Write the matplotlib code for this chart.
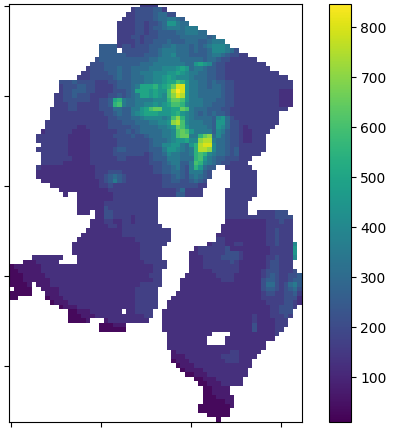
import numpy as np
import matplotlib
matplotlib.use("Agg")
import matplotlib.pyplot as plt

# one char per cell, looked up in level_values, "." = no data, grouped by 5 columns
rows = [
    "..... ..... ..... ..... ..... ....3 333..",
    "..... ..... ..... ..... ..... ..344 44553",
    "..... ..... ..... ..... ..... .3344 44566 44...",
    "..... ..... ..... ..... ..... 33344 44566 7765.",
    "..... ..... ..... ..... ....3 33344 34456 99766",
    "..... ..... ..... ..... ....3 33344 34556 77767 77...",
    "..... ..... ..... ..... ....3 33344 34455 55667 7766.",
    "..... ..... ..... ..... ....3 33443 44455 55566 66665 6....",
    "..... ..... ..... ..... ....3 33343 44555 65556 66556 777..",
    "..... ..... ..... ..... 55553 44344 45556 67666 56567 8887.",
    "..... ..... ..... ..... 5555. 44444 45567 77666 56556 88876 4....",
    "..... ..... ..... ..... 55555 54444 55567 78666 55556 77654 433..",
    "..... ..... ..... ....4 55555 55555 56677 77766 66656 65443 33333",
    "..... ..... ..... ...44 45555 55556 66777 77776 69a98 54433 33333 33...",
    "..... ..... ..... ..344 45556 55666 67778 889a9 67765 54433 33333 333..",
    "..... ..... ..... .3344 44556 55667 77888 99a98 77665 54433 33333 33333",
    "..... ..... ..... 33344 44456 55666 77889 a9888 76665 54433 33333 33333 33...",
    "..... ..... .4445 44443 33445 55666 77889 aacb9 77665 65544 33333 33333 333..",
    "..... ..... .3444 55443 33345 5567a aab9a bdgg9 77665 66544 33333 33333 333..",
    "..... ..... .3445 55443 33344 456aa a9a99 cfhg9 77666 66544 33333 33333 222..",
    "..... ..... 33445 44433 33445 4567a a9a98 cegf9 77666 66544 33333 33333 222..",
    "..... ..... 33444 44433 445ab 76677 77888 bddc9 77766 65544 33333 33333 222..",
    "..... ..... 33344 33333 445bc 76677 88989 accb8 77766 55544 33333 33333 222..",
    "..... ....3 33344 33333 44466 55779 acdd9 9aadc 76665 55443 33333 33333 33...",
    "..... ....3 33333 33333 34456 55789 aaa99 9ab98 76565 65543 33333 33333",
    "..... ....3 33333 33333 33445 55667 88887 8ceb8 76666 58964 33333 33333",
    "..... ...33 33333 33333 33444 55566 67788 9efc8 77766 59964 43333 33333",
    "..... ...33 33333 22333 33444 44556 66677 89dc9 77776 59864 43233 3333.",
    "..... ..233 33332 22233 33334 45456 66667 78cdc 97777 58754 43223 333..",
    "..... .3333 33322 22233 33344 44544 56667 78cdd 77bde 68654 43223 33...",
    "..... .3333 33322 22233 33334 44444 45666 7899a 88eff 76654 43223 33...",
    "..... ..333 33322 22233 33334 44444 45668 89976 9bfgg 86654 43333 33...",
    "..... .3333 33322 22233 33345 54444 45557 99876 7bffe 86654 53333 33...",
    "..... ..333 33322 22233 33344 44444 34556 87766 7bcb8 76654 53333 3....",
    "..... ..333 33332 22233 33334 43333 34555 77766 6bc97 65544 4333.",
    "..... ..333 33222 22233 33333 33333 34445 67755 7cb87 65443 333..",
    "..... .3222 22222 22223 33333 33333 33445 56754 7b965 5..33 3333.",
    "..... .2222 22222 22223 33444 33333 33445 56654 77754 ....3 33333",
    "..... .2222 22222 22223 34565 43333 33334 45654 67654 ....3 33333",
    "..... ..222 22222 22222 34575 43333 33334 45544 5654. ....3 33333",
    "..... ....2 22222 22222 33433 33333 33334 44444 4433. ....3 33333",
    "..... ..... .2222 22222 22333 33333 33333 33463 333.. ...33 33333",
    "..... ..... ..2.. 22222 22233 33333 33333 33553 333.. ...33 33333",
    "..... ..... ..... 22222 22233 33333 333.. ..... ..... ...33 3333.",
    "..... ..... ..... 22222 23333 33333 333.. ..... ..... ...33 333..",
    "..... ..... ..... 22222 24333 33333 333.. ..... ..... ...33 333..",
    "..... ..... ..... 222.2 24433 33333 333.. ..... ..... ...33 333.. 33334 44...",
    "..... ..... ..... ....2 24433 33233 333.. ..... ..... ...33 33333 33334 444..",
    "..... ..... ..... ...22 23322 33233 333.. ..... ..... ...22 22222 22333 433..",
    "..... ..... ..... ...22 22332 33333 3333. ..... ..... ..222 22222 22333 333..",
    "..... ..... ..... ..222 22222 33333 33333 3.... ..... ..222 22222 22334 333..",
    "..... ..... ..... .2222 22222 33333 33333 3.... ..... .2222 22222 22334 333..",
    "..... ..... ..... 22222 22222 22233 33333 3.... ..... .3322 22222 22334 333..",
    "..... ..... ....2 22222 22222 22223 33333 ..... ....2 33322 33222 22334 3338.",
    "..... ..... ....2 22222 22222 22223 3333. ..... .2333 33342 22222 22233 3339.",
    "..... ..... ....2 22222 22222 22223 3333. ..... 22333 33344 43222 22233 3339.",
    "..... 22222 22... 22222 22222 22223 3333. ..... 22233 33444 43222 22334 3338.",
    "...11 12222 2.... 22222 22222 22222 33333 ..... 22233 33334 32222 22344 333..",
    "01111 11222 22222 22222 22222 22222 22333 ..... 22233 33333 32222 22344 333..",
    "00111 11222 22222 22222 22222 22222 2233. ..... 22222 33333 32222 23444 3334.",
    "00011 11122 22222 22222 22222 22222 2333. ....2 22222 23333 22222 23454 33445",
    "00011 11112 22222 22222 22222 22222 2233. ...22 22222 22333 22222 24554 33455",
    "00001 .1112 22222 22222 22222 22223 3333. ...22 22222 22222 22222 24664 34675",
    ".0000 ..111 12222 22222 22222 22233 333.. ...22 22222 22222 22222 24554 34564",
    "00000 ...11 12222 22222 22222 22233 333.. ..222 22222 22222 22222 23443 34453",
    "00... ...01 11222 22222 22222 22233 333.. .2222 22222 22222 22222 23333 34442",
    "..... ....0 11122 22222 22222 22233 333.. 22222 22222 22222 22222 22333 34432",
    "..... ..... .0111 22222 22222 22233 333.. 22222 22222 22222 22222 22233 4443.",
    "..... ..... ...00 11122 22222 .2233 33..2 22222 22222 22222 22222 22233 444..",
    "..... ..... ...00 01112 22222 22222 33..2 22222 22222 22222 22223 22233 343..",
    "..... ..... ...00 001.. .1222 22222 2...2 22222 22222 22222 22223 22223 33...",
    "..... ..... ..... ..... 00011 1.... ....2 22222 22222 22222 22224 22223 33...",
    "..... ..... ..... ..... 00000 0.... ....2 22222 22222 22222 22224 22223 3....",
    "..... ..... ..... ..... ..... ..... ..... 22222 22222 ....2 22222 22223",
    "..... ..... ..... ..... ..... ..... ..... 22222 2222. ...22 22222 2222.",
    "..... ..... ..... ..... ..... ..... ..... 22222 2222. ...22 22222 22...",
    "..... ..... ..... ..... ..... ..... ..... 22222 22222 22222 22222 22...",
    "..... ..... ..... ..... ..... ..... ..... .1222 22222 22223 32222 2....",
    "..... ..... ..... ..... ..... ..... ..... .1112 22222 22333 32222",
    "..... ..... ..... ..... ..... ..... ..... .0111 22222 22233 3222.",
    "..... ..... ..... ..... ..... ..... ..... ..011 12222 22222 2222.",
    "..... ..... ..... ..... ..... ..... ..... ...01 11122 22222 222..",
    "..... ..... ..... ..... ..... ..... ..... ....0 01112 22222 222..",
    "..... ..... ..... ..... ..... ..... ..... ..... .0011 12222 22...",
    "..... ..... ..... ..... ..... ..... ..... ..... ..001 11222 22...",
    "..... ..... ..... ..... ..... ..... ..... ..... ...00 1111.",
    "..... ..... ..... ..... ..... ..... ..... ..... ...00 1111.",
    "..... ..... ..... ..... ..... ..... ..... ..... ...00 01111",
    "..... ..... ..... ..... ..... ..... ..... ..... ...00 00011",
    "..... ..... ..... ..... ..... ..... ..... ..... ..000 00001",
    "..... ..... ..... ..... ..... ..... ..... ..... ..000 0000.",
    "..... ..... ..... ..... ..... ..... ..... ..... ....0 0000.",
    "..... ..... ..... ..... ..... ..... ..... ..... ..... .0...",
]

levels = "0123456789abcdefgh"
level_values = [30, 75, 125, 170, 215, 260, 305, 350, 400, 450, 500, 550, 600, 650, 700, 750, 800, 846]
n_cols = 65

grid = []
for r in rows:
    r = r.replace(" ", "").ljust(n_cols, ".")
    grid.append([np.nan if ch == "." else level_values[levels.index(ch)] for ch in r])
grid = np.array(grid, dtype=float)

W, H = 403, 431
fig = plt.figure(figsize=(W / 100, H / 100), dpi=100)
ax = fig.add_axes([9.2 / W, 1 - 423 / H, 292.5 / W, 418.5 / H])
im = ax.imshow(grid, cmap="viridis", vmin=10, vmax=846)
ax.set_xticks([0, 20, 40, 60])
ax.set_yticks([0, 20, 40, 60, 80])
ax.set_xticklabels([])
ax.set_yticklabels([])

cax = fig.add_axes([329.3 / W, 1 - 423 / H, 21.4 / W, 418.5 / H])
fig.colorbar(im, cax=cax, ticks=[100, 200, 300, 400, 500, 600, 700, 800])

fig.savefig("out.png", dpi=100)
